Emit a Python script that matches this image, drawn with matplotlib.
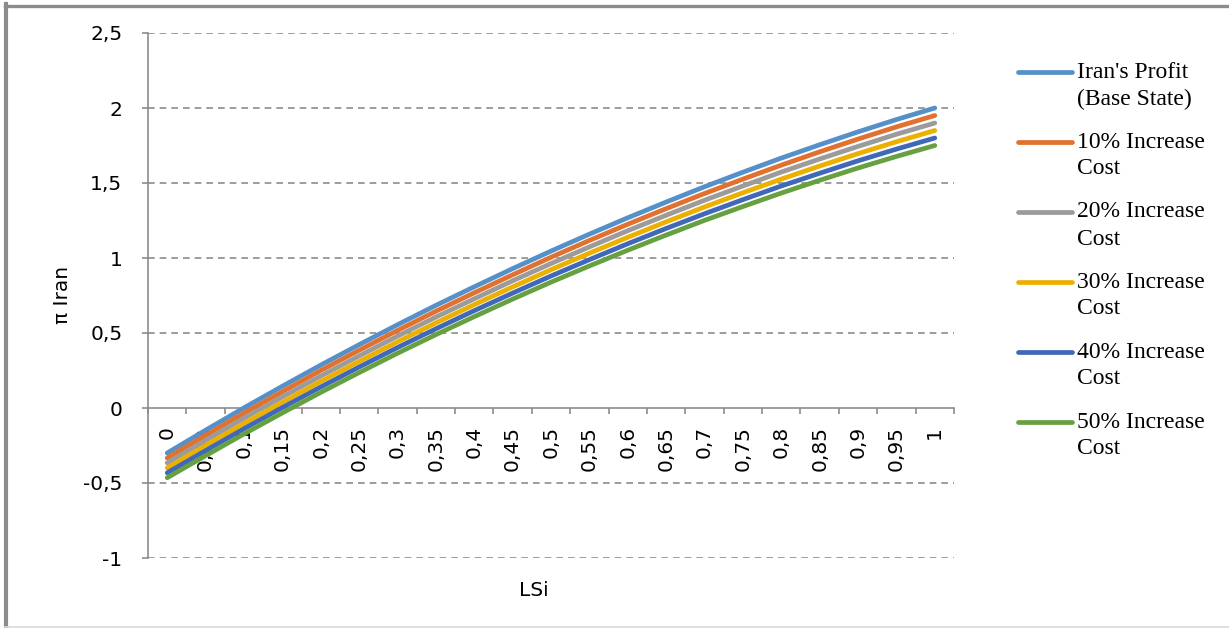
import matplotlib
matplotlib.use("Agg")
import matplotlib.pyplot as plt
from matplotlib.lines import Line2D
from matplotlib.ticker import FixedLocator, FuncFormatter

W, H = 1229, 628

# LSi categories
lsi = ["0", "0,05", "0,1", "0,15", "0,2", "0,25", "0,3", "0,35", "0,4", "0,45", "0,5",
       "0,55", "0,6", "0,65", "0,7", "0,75", "0,8", "0,85", "0,9", "0,95", "1"]

# profit of Iran for each cost scenario
base = [-0.300, -0.148, 0.001, 0.145, 0.286, 0.422, 0.555, 0.684, 0.808, 0.929, 1.046,
        1.159, 1.268, 1.373, 1.475, 1.572, 1.666, 1.755, 1.841, 1.923, 2.000]
inc10 = [-0.333, -0.182, -0.034, 0.109, 0.250, 0.385, 0.517, 0.645, 0.768, 0.888, 1.005,
         1.117, 1.225, 1.329, 1.430, 1.526, 1.619, 1.708, 1.793, 1.874, 1.950]
inc20 = [-0.366, -0.216, -0.068, 0.074, 0.213, 0.347, 0.479, 0.606, 0.728, 0.848, 0.963,
         1.074, 1.182, 1.285, 1.385, 1.480, 1.573, 1.660, 1.744, 1.825, 1.900]
inc30 = [-0.399, -0.250, -0.103, 0.038, 0.177, 0.310, 0.441, 0.567, 0.689, 0.807, 0.922,
         1.032, 1.138, 1.241, 1.340, 1.435, 1.526, 1.613, 1.696, 1.775, 1.850]
inc40 = [-0.432, -0.284, -0.138, 0.003, 0.140, 0.273, 0.403, 0.528, 0.649, 0.766, 0.880,
         0.989, 1.095, 1.197, 1.295, 1.389, 1.480, 1.565, 1.648, 1.726, 1.800]
inc50 = [-0.465, -0.318, -0.173, -0.033, 0.104, 0.236, 0.365, 0.489, 0.609, 0.726, 0.839,
         0.947, 1.052, 1.153, 1.251, 1.343, 1.433, 1.518, 1.600, 1.677, 1.750]

names = ["Iran's Profit\n(Base State)", "10% Increase\nCost", "20% Increase\nCost",
         "30% Increase\nCost", "40% Increase\nCost", "50% Increase\nCost"]
series = [base, inc10, inc20, inc30, inc40, inc50]
colors = ["#5590C8", "#E0712E", "#9B9B9B", "#EBB000", "#3F68B8", "#66A040"]

yticks = [-1, -0.5, 0, 0.5, 1, 1.5, 2, 2.5]

fig = plt.figure(figsize=(W / 100, H / 100), dpi=100)
fig.patch.set_facecolor("white")

def fx(x):
    return x / W

def fy(y):
    return 1 - y / H

ax = fig.add_axes([fx(148), fy(558), (954 - 148) / W, (558 - 33) / H])

xs = list(range(len(lsi)))
for vals, c in zip(series, colors):
    ax.plot(xs, vals, color=c, lw=3.4, solid_capstyle="round", zorder=3)

ax.set_xlim(-0.5, len(lsi) - 0.5)
ax.set_ylim(-1, 2.5)

# dashed horizontal gridlines
for v in yticks:
    if v != 0:
        ax.axhline(v, color="#8C8C8C", lw=1.2, ls=(0, (4, 3)), zorder=1)

grey = "#8C8C8C"
for s in ["top", "right"]:
    ax.spines[s].set_visible(False)
ax.spines["left"].set_color(grey)
ax.spines["left"].set_linewidth(1.2)
ax.spines["bottom"].set_position(("data", 0))
ax.spines["bottom"].set_color(grey)
ax.spines["bottom"].set_linewidth(1.2)

ax.yaxis.set_major_locator(FixedLocator(yticks))
ax.yaxis.set_major_formatter(FuncFormatter(lambda v, p: ("%g" % v).replace(".", ",")))
ax.tick_params(axis="y", direction="out", length=4.5, width=1.2, color=grey, pad=14,
               labelsize=14.5, labelcolor="black")

# ticks between categories, labels at category centres
ax.xaxis.set_major_locator(FixedLocator([i - 0.5 for i in range(len(lsi) + 1)]))
ax.xaxis.set_major_formatter(FuncFormatter(lambda v, p: ""))
ax.xaxis.set_minor_locator(FixedLocator(xs))
ax.set_xticklabels(lsi, minor=True)
ax.tick_params(axis="x", which="major", direction="out", length=4.5, width=1.2, color=grey)
ax.tick_params(axis="x", which="minor", length=0, pad=13, labelsize=14.5,
               labelrotation=90, labelcolor="black")

fig.text(fx(62), fy(295), "π Iran", rotation=90, ha="center", va="center", fontsize=14.5)
fig.text(fx(534), fy(590), "LSi", ha="center", va="center", fontsize=14.5)

# legend
for i, (name, c) in enumerate(zip(names, colors)):
    y0 = 72 + i * 70
    fig.add_artist(Line2D([fx(1018), fx(1072)], [fy(y0), fy(y0)], color=c, lw=3.4,
                          solid_capstyle="round", transform=fig.transFigure))
    first, second = name.split("\n")
    fig.text(fx(1077), fy(y0), first, ha="left", va="center", fontsize=17,
             family="Liberation Serif")
    fig.text(fx(1077), fy(y0 + 27), second, ha="left", va="center", fontsize=17,
             family="Liberation Serif")

# chart frame
fig.add_artist(Line2D([fx(6.5), fx(6.5)], [fy(4), fy(628)], color="#8C8C8C", lw=3,
                      transform=fig.transFigure))
fig.add_artist(Line2D([fx(5), fx(1229)], [fy(5.5), fy(5.5)], color="#8C8C8C", lw=2.4,
                      transform=fig.transFigure))
fig.add_artist(Line2D([fx(5), fx(1229)], [fy(627), fy(627)], color="#D9D9D9", lw=1.2,
                      transform=fig.transFigure))

fig.savefig("out.png", dpi=100, facecolor="white")
